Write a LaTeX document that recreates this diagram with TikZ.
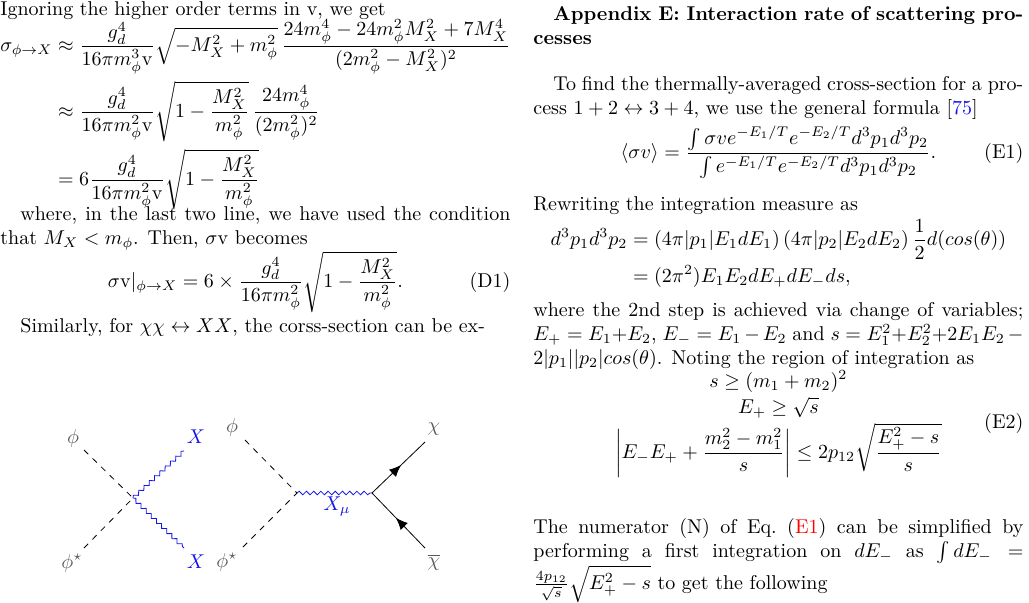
\documentclass[tikz,border=0pt]{standalone}
\usepackage{amsmath,amssymb}
\usepackage{tikz}
\usetikzlibrary{decorations.pathmorphing,decorations.markings,arrows.meta}

\definecolor{refblue}{RGB}{20,20,235}
\definecolor{labgray}{RGB}{90,90,90}

\newcommand{\dispbox}[3][245pt]{\begin{minipage}{#1}\abovedisplayskip=0pt\belowdisplayskip=0pt\abovedisplayshortskip=0pt\belowdisplayshortskip=0pt\jot=#2\vspace*{-\baselineskip}#3\end{minipage}}

\tikzset{
  column/.style = {anchor=north west, inner sep=0pt, text width=245pt, align=justify},
  wide/.style = {text width=255pt},
  scalar/.style = {dashed, thin},
  boson/.style = {refblue, thin, decorate, decoration={snake, amplitude=0.9pt, segment length=3.6pt}},
  fermion/.style = {thin, postaction={decorate}, decoration={markings, mark=at position 0.55 with {\arrow{Latex[length=6pt,width=5pt]}}}},
  lab/.style = {text=labgray, inner sep=1pt},
  blab/.style = {text=refblue, inner sep=1pt}
}

\begin{document}
\begin{tikzpicture}[x=0.5pt, y=-0.5pt]
  \useasboundingbox (0,0) rectangle (1029,602);

  % left column
  \node[column, wide] (intro) at (0,1) {Ignoring the higher order terms in v, we get};
  \node[column, wide] (sigmaeq) at (0,41) {\dispbox[255pt]{2.5pt}{%
    \begin{align*}
      \sigma_{\phi\to X} &\approx \frac{g_d^4}{16\pi m_\phi^3\mathrm{v}}\sqrt{-M_X^2+m_\phi^2}\,\frac{24m_\phi^4-24m_\phi^2M_X^2+7M_X^4}{(2m_\phi^2-M_X^2)^2}\\
      &\approx \frac{g_d^4}{16\pi m_\phi^2\mathrm{v}}\sqrt{1-\frac{M_X^2}{m_\phi^2}}\,\frac{24m_\phi^4}{(2m_\phi^2)^2}\\
      &= 6\frac{g_d^4}{16\pi m_\phi^2\mathrm{v}}\sqrt{1-\frac{M_X^2}{m_\phi^2}}
    \end{align*}}};
  \node[column, wide] (where) at (0,206) {\hspace*{1em}where, in the last two line, we have used the condition that $M_X<m_\phi$. Then, $\sigma$v becomes};
  \node[column, wide] (done) at (0,273) {\dispbox[255pt]{2pt}{%
    \begin{equation*}
      \sigma\mathrm{v}|_{\phi\to X} = 6\times\frac{g_d^4}{16\pi m_\phi^2}\sqrt{1-\frac{M_X^2}{m_\phi^2}}. \tag{D1}
    \end{equation*}}};
  \node[column, wide] (similar) at (0,318) {\hspace*{1em}Similarly, for $\chi\chi\leftrightarrow XX$, the corss-section can be ex-};

  % contact diagram
  \coordinate (c) at (133,498);
  \coordinate (ca) at (84,450);
  \coordinate (cb) at (84,548);
  \coordinate (cx) at (184,451);
  \coordinate (cy) at (184,548);
  \draw[scalar] (ca) -- (c);
  \draw[scalar] (cb) -- (c);
  \draw[boson] (c) -- (cx);
  \draw[boson] (c) -- (cy);
  \node[lab] (cphi) at (73,438) {$\phi$};
  \node[lab] (cphis) at (72,563) {$\phi^\star$};
  \node[blab] (cX1) at (196,437) {$X$};
  \node[blab] (cX2) at (196,562) {$X$};

  % s-channel diagram
  \coordinate (v1) at (297,493);
  \coordinate (v2) at (372,493);
  \coordinate (sa) at (245,440);
  \coordinate (sb) at (243,547);
  \coordinate (chiend) at (425,442);
  \coordinate (chibend) at (425,548);
  \draw[scalar] (sa) -- (v1);
  \draw[scalar] (sb) -- (v1);
  \draw[boson] (v1) -- (v2);
  \draw[fermion] (v2) -- (chiend);
  \draw[fermion] (chibend) -- (v2);
  \node[lab] (sphi) at (232,427) {$\phi$};
  \node[lab] (sphis) at (227,562) {$\phi^\star$};
  \node[blab] (xmu) at (337,507) {$X_\mu$};
  \node[lab] (chi) at (434,429) {$\chi$};
  \node[lab] (chib) at (434,562) {$\overline{\chi}$};

  % right column
  \node[column] (appx) at (533,6) {\hspace*{10pt}\makebox[235pt][s]{\bfseries Appendix E: Interaction rate of scattering pro-}\\\bfseries cesses};
  \node[column] (tofind) at (533,76) {\hspace*{1em}To find the thermally-averaged cross-section for a pro\-cess $1+2\leftrightarrow3+4$, we use the general formula [\textcolor{refblue}{75}]};
  \node[column] (avg) at (533,148) {\dispbox{2pt}{%
    \begin{equation*}
      \langle\sigma v\rangle = \frac{\int\sigma v e^{-E_1/T}e^{-E_2/T}d^3p_1d^3p_2}{\int e^{-E_1/T}e^{-E_2/T}d^3p_1d^3p_2}. \tag{E1}
    \end{equation*}}};
  \node[column] (rewrite) at (533,196) {Rewriting the integration measure as};
  \node[column] (measure) at (533,241) {\dispbox{2pt}{%
    \begin{align*}
      d^3p_1d^3p_2 &= (4\pi|p_1|E_1dE_1)\,(4\pi|p_2|E_2dE_2)\,\frac{1}{2}d(cos(\theta))\\
      &= (2\pi^2)E_1E_2dE_+dE_-ds,
    \end{align*}}};
  \node[column] (second) at (533,302) {where the 2nd step is achieved via change of variables; $E_+=E_1{+}E_2$, $E_-=E_1-E_2$ and $s=E_1^2{+}E_2^2{+}2E_1E_2-2|p_1||p_2|cos(\theta)$. Noting the region of integration as};
  \node[column] (region) at (533,392) {\dispbox{0pt}{%
    \begin{equation*}
      \begin{gathered}
        s\geq(m_1+m_2)^2\\
        E_+\geq\sqrt{s}\\
        \left|E_-E_++\frac{m_2^2-m_1^2}{s}\right|\leq2p_{12}\sqrt{\frac{E_+^2-s}{s}}
      \end{gathered} \tag{E2}
    \end{equation*}}};
  \node[column] (numer) at (533,518) {The numerator (N) of Eq.~(\textcolor{red}{E1}) can be simplified by performing a first integration on $dE_-$ as $\int dE_-=\frac{4p_{12}}{\sqrt{s}}\sqrt{E_+^2-s}$ to get the following};
\end{tikzpicture}
\end{document}
